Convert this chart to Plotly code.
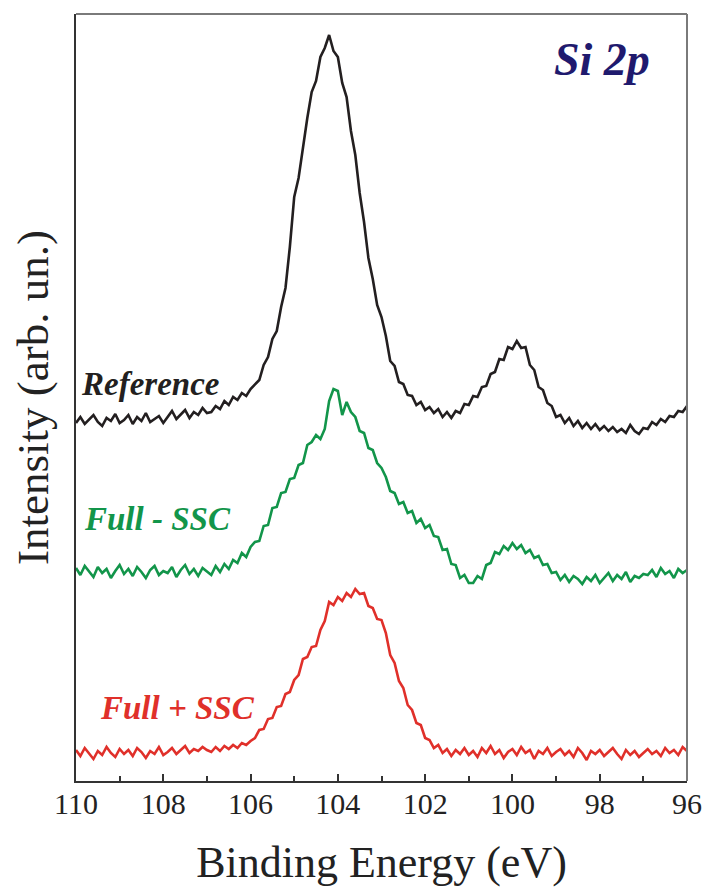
import numpy as np
import plotly.graph_objects as go

# Binding energy grid: 110.0 -> 96.0 eV in 0.1 eV steps (141 points)
energy = [round(110.0 - 0.1 * i, 1) for i in range(141)]

reference = [
    358, 364, 357, 362, 366, 359, 355, 363, 360, 367, 358,
    361, 366, 357, 364, 360, 368, 359, 362, 365, 358,
    364, 370, 362, 367, 371, 363, 369, 366, 373, 368,
    369, 375, 372, 380, 376, 384, 381, 388, 385, 392,
    397, 401, 416, 424, 442, 450, 474, 493, 534, 584,
    603, 634, 663, 689, 700, 724, 733, 746, 730, 724,
    698, 684, 650, 626, 588, 559, 523, 502, 476, 464,
    445, 420, 415, 399, 397, 386, 385, 376, 379, 371,
    374, 368, 372, 364, 369, 363, 370, 368, 377, 376,
    385, 384, 394, 395, 407, 409, 422, 421, 434, 432,
    440, 433, 434, 416, 411, 394, 391, 378, 375, 364,
    366, 358, 363, 355, 360, 353, 358, 352, 357, 351,
    355, 350, 354, 349, 352, 348, 356, 350, 347, 353,
    352, 359, 356, 362, 359, 365, 364, 370, 369, 375,
]

full_minus_ssc = [
    213, 206, 215, 209, 204, 214, 208, 212, 203, 210, 216,
    207, 212, 205, 214, 209, 203, 211, 215, 206, 210,
    208, 214, 204, 211, 216, 207, 212, 205, 213, 209,
    206, 215, 209, 217, 212, 221, 218, 228, 224, 234,
    239, 240, 255, 256, 273, 274, 288, 289, 302, 303,
    316, 318, 336, 339, 346, 342, 352, 380, 392, 390,
    366, 379, 369, 364, 350, 348, 333, 331, 318, 313,
    304, 290, 288, 277, 279, 268, 270, 258, 262, 253,
    256, 245, 244, 231, 232, 217, 216, 203, 206, 198,
    198, 205, 202, 216, 218, 229, 227, 235, 231, 238,
    232, 236, 228, 231, 223, 225, 216, 217, 208, 209,
    201, 206, 199, 205, 202, 197, 204, 200, 206, 198,
    203, 208, 200, 206, 202, 209, 199, 205, 203, 207,
    206, 211, 204, 213, 207, 210, 203, 212, 208, 211,
]

full_plus_ssc = [
    31, 25, 33, 27, 22, 30, 26, 34, 28, 24, 32,
    27, 31, 25, 33, 29, 23, 30, 27, 34, 26,
    29, 33, 27, 31, 35, 28, 32, 30, 34, 31,
    29, 34, 30, 35, 32, 36, 33, 38, 36, 40,
    43, 51, 52, 62, 63, 74, 75, 87, 89, 101,
    106, 122, 124, 134, 135, 151, 160, 179, 176, 184,
    180, 188, 184, 192, 187, 188, 175, 173, 162, 161,
    148, 126, 118, 100, 93, 76, 71, 58, 56, 43,
    41, 33, 36, 28, 32, 25, 31, 27, 33, 26,
    30, 24, 33, 28, 35, 27, 31, 23, 29, 32,
    26, 34, 28, 31, 22, 30, 27, 33, 25, 29,
    32, 26, 30, 24, 33, 28, 21, 30, 27, 31,
    25, 29, 33, 27, 22, 31, 26, 30, 24, 28,
    32, 27, 30, 25, 33, 28, 31, 26, 34, 30,
]

series_names = ["Reference", "Full - SSC", "Full + SSC"]
series_colors = ["#231f20", "#12954a", "#e0302a"]
series_values = [reference, full_minus_ssc, full_plus_ssc]

x_tickvals = [110, 108, 106, 104, 102, 100, 98, 96]
x_ticktext = ["110", "108", "106", "104", "102", "100", "98", "96"]

FONT = "Liberation Serif, Times New Roman, serif"

fig = go.Figure()
for name, color, vals in zip(series_names, series_colors, series_values):
    fig.add_trace(go.Scatter(
        x=energy, y=vals, mode="lines", name=name,
        line=dict(color=color, width=2.6, shape="linear"),
        showlegend=False,
    ))

# curve labels
label_pos = [(109.93, 397), (109.86, 262), (109.5, 73)]
for (lx, ly), name, color in zip(label_pos, series_names, series_colors):
    fig.add_annotation(
        x=lx, y=ly, xref="x", yref="y", text=f"<b><i>{name}</i></b>",
        showarrow=False, xanchor="left", yanchor="middle",
        font=dict(family=FONT, size=33, color=color),
    )

fig.add_annotation(
    x=97.94, y=722, xref="x", yref="y", text="<b><i>Si 2p</i></b>",
    showarrow=False, xanchor="center", yanchor="middle",
    font=dict(family=FONT, size=46, color="#1f1a6e"),
)

# gray top and right frame lines
fig.add_shape(type="line", xref="paper", yref="paper", x0=0, x1=1, y0=1, y1=1,
              line=dict(color="#7a7a7a", width=2))
fig.add_shape(type="line", xref="paper", yref="paper", x0=1, x1=1, y0=0, y1=1,
              line=dict(color="#7a7a7a", width=2))

fig.update_layout(
    width=719, height=895,
    margin=dict(l=68, r=40, t=6, b=122),
    paper_bgcolor="white", plot_bgcolor="white",
    font=dict(family=FONT, color="#222222"),
    xaxis=dict(
        range=[110, 96], automargin=False,
        tickmode="array", tickvals=x_tickvals, ticktext=x_ticktext,
        ticks="inside", ticklen=7, tickwidth=2, tickcolor="#333333",
        ticklabelstandoff=-5,
        minor=dict(dtick=1, tick0=96, ticks="inside", ticklen=5, tickwidth=1.5, tickcolor="#333333"),
        showline=True, linecolor="#333333", linewidth=2,
        showgrid=False, zeroline=False,
        tickfont=dict(family=FONT, size=30, color="#222222"),
        title=dict(text="Binding Energy (eV)", font=dict(family=FONT, size=44, color="#222222"), standoff=27),
    ),
    yaxis=dict(
        range=[0, 767], automargin=False,
        showticklabels=False, ticks="",
        showline=True, linecolor="#333333", linewidth=2,
        showgrid=False, zeroline=False,
        title=dict(text="Intensity (arb. un.)", font=dict(family=FONT, size=45, color="#222222"), standoff=20),
    ),
)

fig.write_html("out.html")
